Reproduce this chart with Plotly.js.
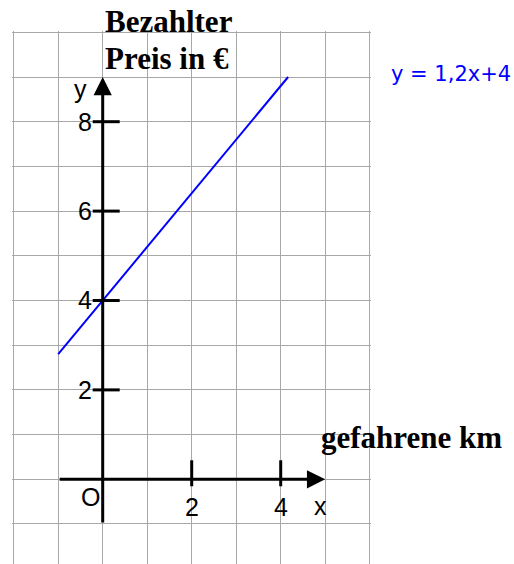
<!DOCTYPE html>
<html>
<head>
<meta charset="utf-8">
<script src="https://cdn.plot.ly/plotly-3.0.1.min.js"></script>
<style>
  html, body { margin: 0; padding: 0; background: #ffffff; }
  #chart { width: 514px; height: 564px; }
</style>
</head>
<body>
<div id="chart"></div>
<script>
// Linear fare function: paid price (€) against kilometres driven
const slope = 1.2;
const intercept = 4;
const lineXStart = -1;
const lineXEnd = 4.1667;

// Labelled ticks on the two axes
const xTickVals = [2, 4];
const yTickVals = [2, 4, 6, 8];

// Extent of the drawn coordinate axes (start, arrow tip)
const xAxisSpan = [-1, 5];
const yAxisSpan = [-1, 9];

// Axis captions (the y caption is set on two lines)
const yCaptionLines = ['Bezahlter', 'Preis in €'];
const xCaption = 'gefahrene km';

const SANS = 'Liberation Sans, Arial, sans-serif';
const SERIF = 'Liberation Serif, Times New Roman, serif';

const lineX = [lineXStart, lineXEnd];
const lineY = lineX.map(x => slope * x + intercept);
const equationText = 'y = ' + String(slope).replace('.', ',') + 'x+' + intercept;

const traces = [{
  type: 'scatter',
  mode: 'lines',
  x: lineX,
  y: lineY,
  line: { color: '#0000ff', width: 2 },
  hoverinfo: 'skip',
  showlegend: false,
  cliponaxis: false
}];

const shapes = [];
// short tick strokes on the y axis
yTickVals.forEach(v => shapes.push({
  type: 'line', xref: 'x', yref: 'y', layer: 'above',
  xsizemode: 'pixel', xanchor: 0, x0: -10, x1: 17,
  y0: v, y1: v,
  line: { color: '#000000', width: 3 }
}));
// short tick strokes on the x axis
xTickVals.forEach(v => shapes.push({
  type: 'line', xref: 'x', yref: 'y', layer: 'above',
  ysizemode: 'pixel', yanchor: 0, y0: -7, y1: 19,
  x0: v, x1: v,
  line: { color: '#000000', width: 3 }
}));

const annotations = [];
// axes with arrow heads
annotations.push({
  x: xAxisSpan[1], y: 0, ax: xAxisSpan[0], ay: 0,
  xref: 'x', yref: 'y', axref: 'x', ayref: 'y',
  text: '', showarrow: true, arrowhead: 2, arrowsize: 1.22,
  arrowwidth: 3, arrowcolor: '#000000', standoff: 0, startstandoff: 0
});
annotations.push({
  x: 0, y: yAxisSpan[1], ax: 0, ay: yAxisSpan[0],
  xref: 'x', yref: 'y', axref: 'x', ayref: 'y',
  text: '', showarrow: true, arrowhead: 2, arrowsize: 1.22,
  arrowwidth: 3, arrowcolor: '#000000', standoff: 0, startstandoff: 0
});
// tick labels
yTickVals.forEach(v => annotations.push({
  x: 0, y: v, xref: 'x', yref: 'y', text: String(v), showarrow: false,
  xanchor: 'right', yanchor: 'middle', xshift: -9, yshift: 0,
  font: { family: SANS, size: 25, color: '#000000' }
}));
xTickVals.forEach(v => annotations.push({
  x: v, y: 0, xref: 'x', yref: 'y', text: String(v), showarrow: false,
  xanchor: 'center', yanchor: 'middle', yshift: -28,
  font: { family: SANS, size: 25, color: '#000000' }
}));
// origin and axis letters
annotations.push({
  x: 0, y: 0, xref: 'x', yref: 'y', text: 'O', showarrow: false,
  xanchor: 'center', yanchor: 'middle', xshift: -12, yshift: -18,
  font: { family: SANS, size: 25, color: '#000000' }
});
annotations.push({
  x: xAxisSpan[1], y: 0, xref: 'x', yref: 'y', text: 'x', showarrow: false,
  xanchor: 'center', yanchor: 'middle', xshift: -5, yshift: -27,
  font: { family: SANS, size: 25, color: '#000000' }
});
annotations.push({
  x: 0, y: yAxisSpan[1], xref: 'x', yref: 'y', text: 'y', showarrow: false,
  xanchor: 'center', yanchor: 'middle', xshift: -22, yshift: -12,
  font: { family: SANS, size: 25, color: '#000000' }
});
// captions
yCaptionLines.forEach((line, i) => annotations.push({
  x: 0, y: 10, xref: 'x', yref: 'y', text: line, showarrow: false,
  xanchor: 'left', yanchor: 'middle', align: 'left',
  xshift: 0, yshift: 11 - 37 * i,
  font: { family: SERIF, size: 31, color: '#000000', weight: 'bold' }
}));
annotations.push({
  x: 5, y: 1, xref: 'x', yref: 'y', text: xCaption, showarrow: false,
  xanchor: 'left', yanchor: 'middle', xshift: -6, yshift: -3,
  font: { family: SERIF, size: 31, color: '#000000', weight: 'bold' }
});
// equation of the line
annotations.push({
  x: 6, y: 9, xref: 'x', yref: 'y', text: equationText, showarrow: false,
  xanchor: 'left', yanchor: 'middle', xshift: 19, yshift: 3,
  font: { family: 'DejaVu Sans, Verdana, sans-serif', size: 21, color: '#0000ff' }
});

const gridAxis = {
  showgrid: true, gridcolor: '#a8a8a8', gridwidth: 1,
  dtick: 1, tick0: 0, zeroline: false, showline: false,
  showticklabels: false, ticks: '', fixedrange: true
};

const layout = {
  width: 514, height: 564,
  margin: { l: 12, r: 143, t: 31, b: 0 },
  paper_bgcolor: '#ffffff', plot_bgcolor: '#ffffff',
  showlegend: false,
  xaxis: Object.assign({ range: [-2.038, 6.029] }, gridAxis),
  yaxis: Object.assign({ range: [-1.895, 10.029] }, gridAxis),
  shapes: shapes,
  annotations: annotations
};

Plotly.newPlot('chart', traces, layout, { displayModeBar: false, staticPlot: true });
</script>
</body>
</html>
